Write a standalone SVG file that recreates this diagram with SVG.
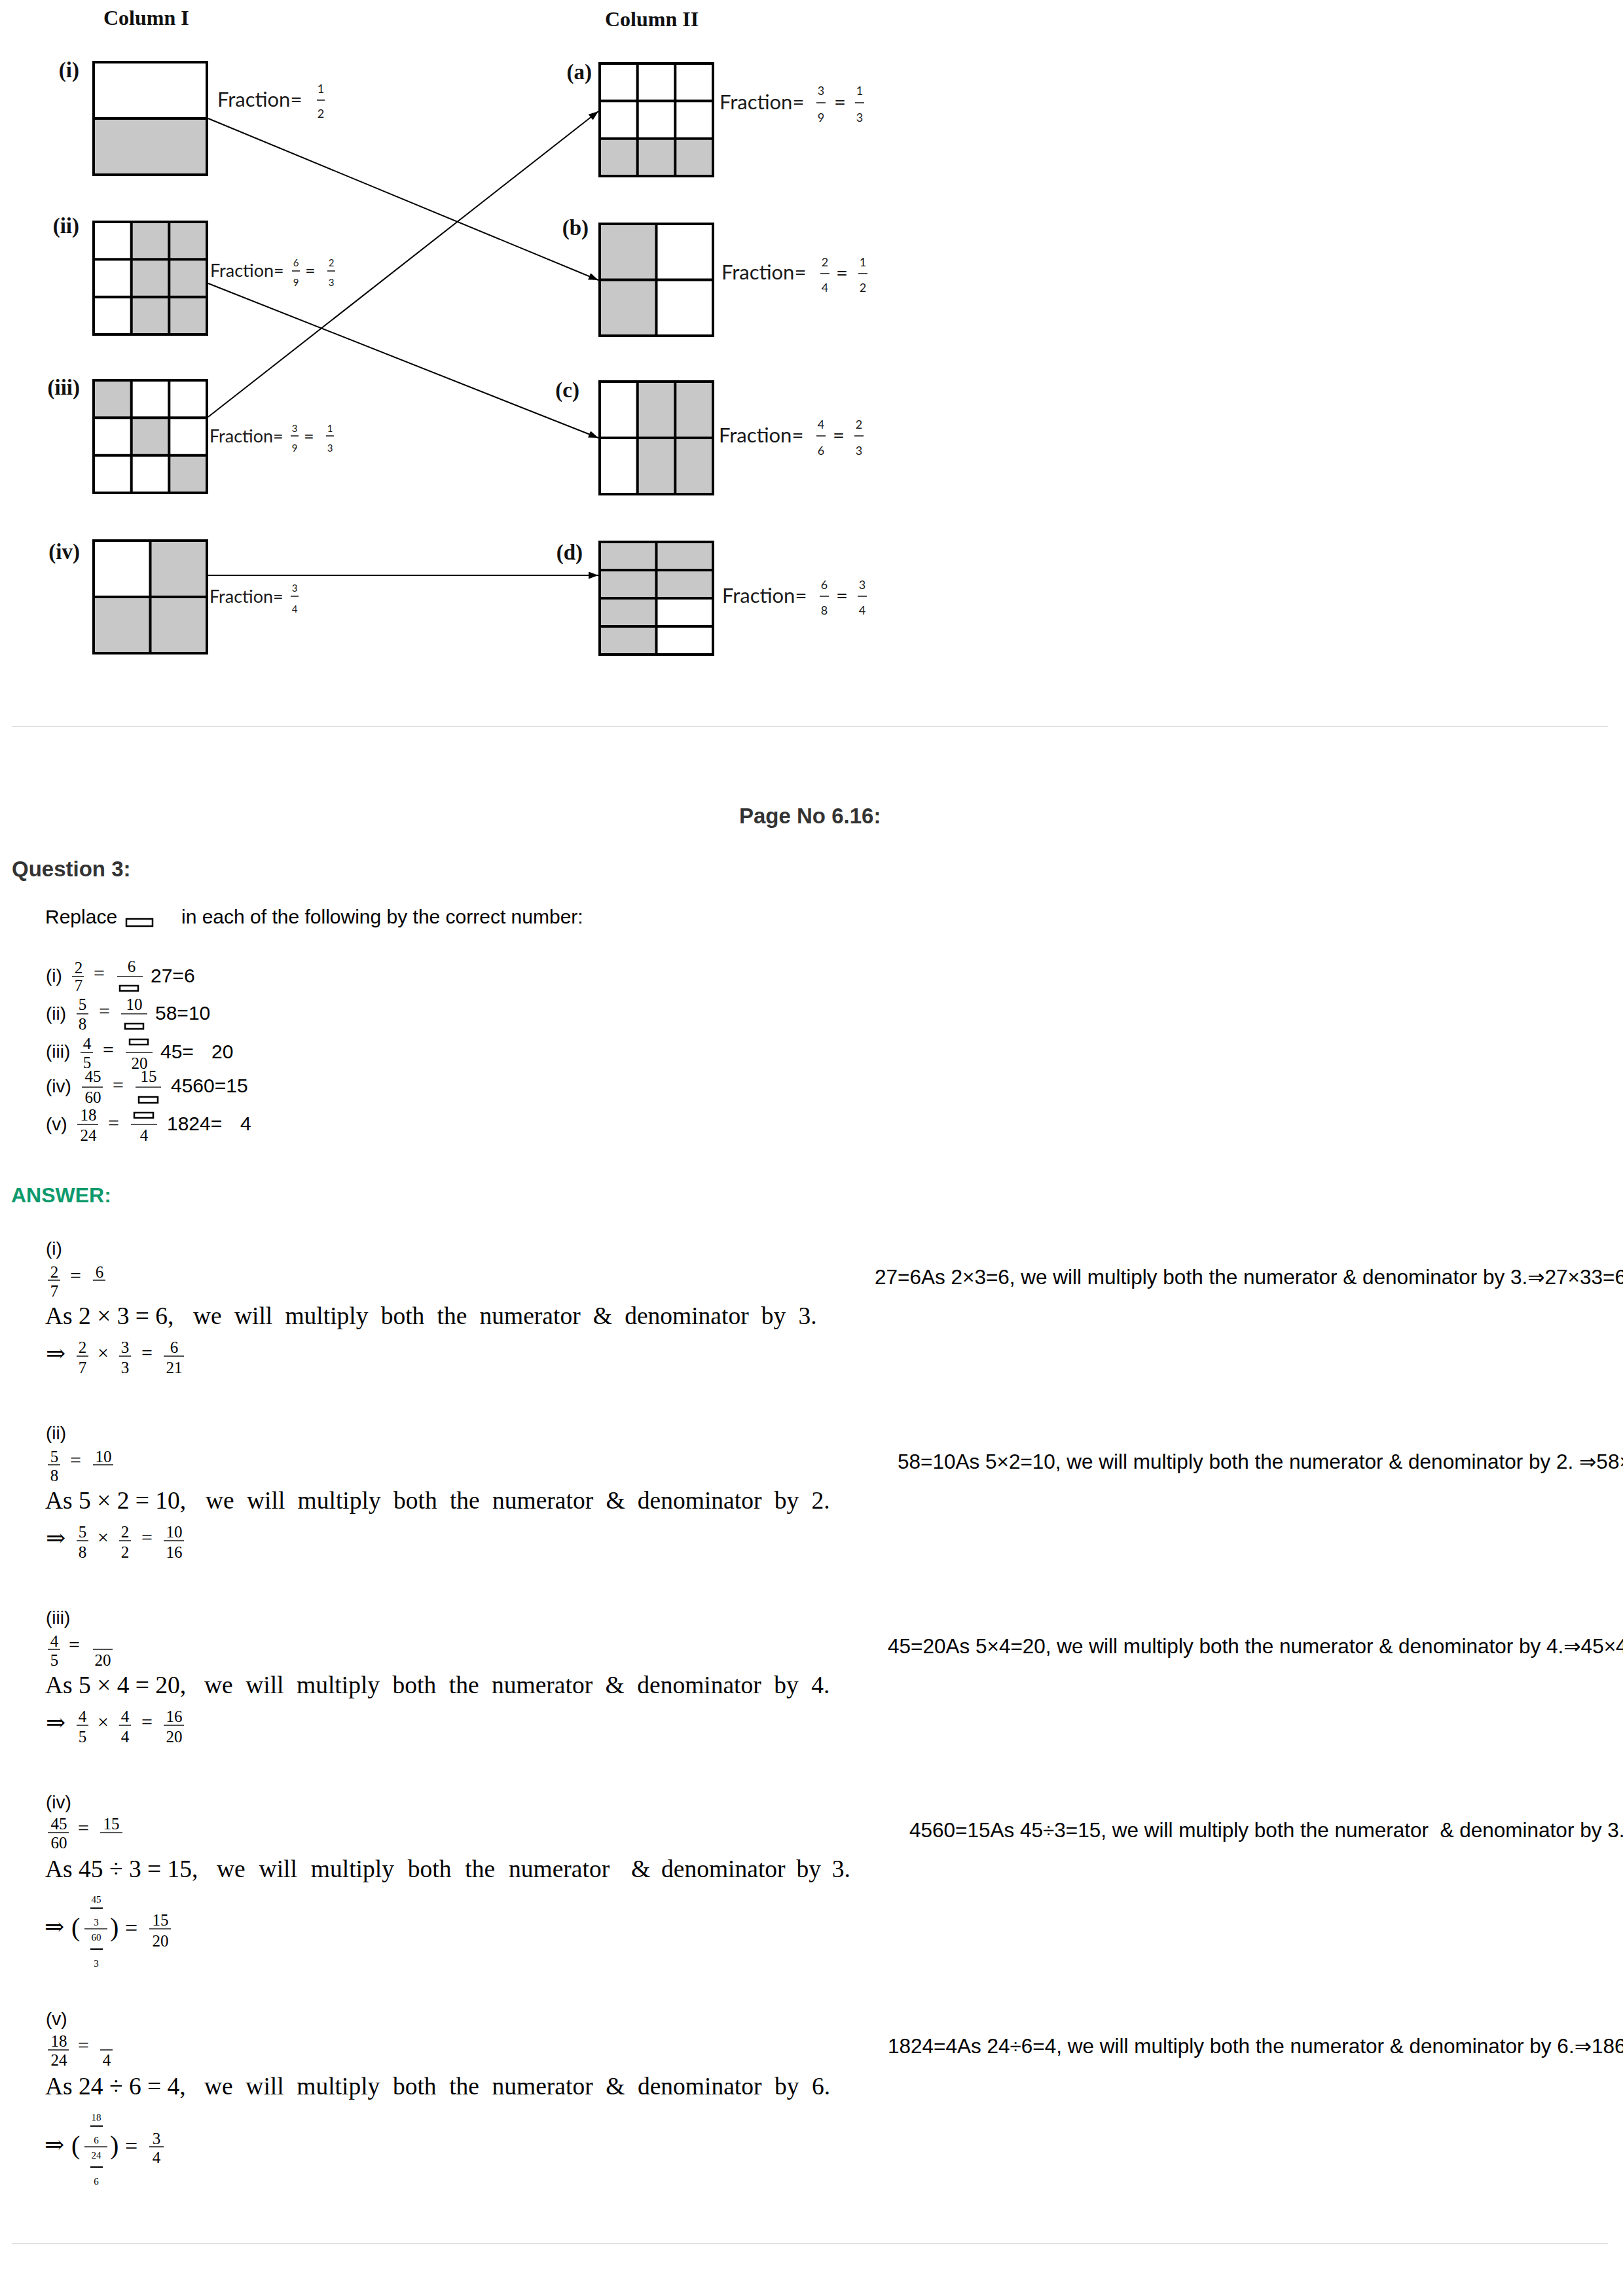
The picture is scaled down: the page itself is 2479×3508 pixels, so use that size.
<svg xmlns="http://www.w3.org/2000/svg" width="2479" height="3508" viewBox="0 0 2479 3508">
<defs>
<marker id="arr" markerUnits="userSpaceOnUse" markerWidth="15" markerHeight="11" refX="15" refY="5.5" orient="auto">
<path d="M0,0 L15,5.5 L0,11 z" fill="#000"/>
</marker>
<style>
.hdr{font-family:"Liberation Serif",serif;font-weight:bold;font-size:32px;fill:#111}
.lbl{font-family:"Liberation Serif",serif;font-weight:bold;font-size:33px;fill:#111;text-anchor:end}
.fr{font-family:Lato,"Liberation Sans",sans-serif;font-size:31px;fill:#1a1a1a}
.frs{font-family:Lato,"Liberation Sans",sans-serif;font-size:27px;fill:#1a1a1a}
.fd{font-family:Lato,"Liberation Sans",sans-serif;font-size:18px;text-anchor:middle;fill:#1a1a1a}
.fs{font-family:Lato,"Liberation Sans",sans-serif;font-size:15px;text-anchor:middle;fill:#1a1a1a}
.g{fill:#c8c8c8}
.box{fill:none;stroke:#000;stroke-width:4}
.ln{stroke:#000;stroke-width:4}
.tb{stroke:#222;stroke-width:1.6}
.conn{stroke:#000;stroke-width:2;fill:none;marker-end:url(#arr)}
.sep{stroke:#e2e2e2;stroke-width:2}
.sans{font-family:"Liberation Sans","DejaVu Sans",sans-serif;fill:#000}
.s30{font-size:30px}
.s28{font-size:28px}
.rt{font-family:"Liberation Sans","DejaVu Sans",sans-serif;font-size:31.5px;fill:#000}
.hd{font-family:"Liberation Sans",sans-serif;font-weight:bold;font-size:33px;fill:#333}
.ans{font-family:"Liberation Sans",sans-serif;font-weight:bold;font-size:32px;fill:#0e9a6b}
.ser{font-family:"Liberation Serif","DejaVu Serif",serif;fill:#000}
.n25{font-size:25px;text-anchor:middle}
.n15{font-size:15px;text-anchor:middle}
.as{font-size:37.5px}
.op{font-size:30px}
.arw{font-family:"DejaVu Serif","Liberation Serif",serif;font-size:36px;fill:#000}
.qb{fill:none;stroke:#000;stroke-width:2.5}
</style>
</defs>
<rect width="2479" height="3508" fill="#fff"/>

<text class="hdr" x="158" y="38">Column I</text>
<text class="hdr" x="924" y="40">Column II</text>

<g id="box-i">
<rect class="g" x="143" y="181" width="173" height="86"/>
<line class="ln" x1="143" y1="181" x2="316" y2="181"/>
<rect class="box" x="143" y="95" width="173" height="172"/>
<text class="lbl" x="121" y="118">(i)</text>
<text class="fr" x="332" y="163">Fraction=</text>
<text class="fd" x="490" y="142">1</text><line class="tb" x1="484" y1="153" x2="496" y2="153"/><text class="fd" x="490" y="180">2</text>
</g>

<g id="box-ii">
<rect class="g" x="200.7" y="339" width="115.3" height="172"/>
<line class="ln" x1="143" y1="396.3" x2="316" y2="396.3"/>
<line class="ln" x1="143" y1="453.7" x2="316" y2="453.7"/>
<line class="ln" x1="200.7" y1="339" x2="200.7" y2="511"/>
<line class="ln" x1="258.3" y1="339" x2="258.3" y2="511"/>
<rect class="box" x="143" y="339" width="173" height="172"/>
<text class="lbl" x="121" y="356">(ii)</text>
<text class="frs" x="321" y="423">Fraction=</text>
<text class="fs" x="452" y="407">6</text><line class="tb" x1="446" y1="414" x2="458" y2="414"/><text class="fs" x="452" y="437">9</text>
<text class="frs" x="466" y="423">=</text>
<text class="fs" x="506" y="407">2</text><line class="tb" x1="500" y1="414" x2="512" y2="414"/><text class="fs" x="506" y="437">3</text>
</g>

<g id="box-iii">
<rect class="g" x="143" y="581" width="57.7" height="57.3"/>
<rect class="g" x="200.7" y="638.3" width="57.6" height="57.4"/>
<rect class="g" x="258.3" y="695.7" width="57.7" height="57.3"/>
<line class="ln" x1="143" y1="638.3" x2="316" y2="638.3"/>
<line class="ln" x1="143" y1="695.7" x2="316" y2="695.7"/>
<line class="ln" x1="200.7" y1="581" x2="200.7" y2="753"/>
<line class="ln" x1="258.3" y1="581" x2="258.3" y2="753"/>
<rect class="box" x="143" y="581" width="173" height="172"/>
<text class="lbl" x="122" y="603">(iii)</text>
<text class="frs" x="320" y="676">Fraction=</text>
<text class="fs" x="450" y="660">3</text><line class="tb" x1="444" y1="666" x2="456" y2="666"/><text class="fs" x="450" y="690">9</text>
<text class="frs" x="464" y="676">=</text>
<text class="fs" x="504" y="660">1</text><line class="tb" x1="498" y1="666" x2="510" y2="666"/><text class="fs" x="504" y="690">3</text>
</g>

<g id="box-iv">
<rect class="g" x="229.5" y="826" width="86.5" height="86"/>
<rect class="g" x="143" y="912" width="173" height="86"/>
<line class="ln" x1="143" y1="912" x2="316" y2="912"/>
<line class="ln" x1="229.5" y1="826" x2="229.5" y2="998"/>
<rect class="box" x="143" y="826" width="173" height="172"/>
<text class="lbl" x="122" y="854">(iv)</text>
<text class="frs" x="320" y="921">Fraction=</text>
<text class="fs" x="450" y="904">3</text><line class="tb" x1="444" y1="911" x2="456" y2="911"/><text class="fs" x="450" y="936">4</text>
</g>

<g id="box-a">
<rect class="g" x="916" y="211.7" width="173" height="57.3"/>
<line class="ln" x1="916" y1="154.3" x2="1089" y2="154.3"/>
<line class="ln" x1="916" y1="211.7" x2="1089" y2="211.7"/>
<line class="ln" x1="973.7" y1="97" x2="973.7" y2="269"/>
<line class="ln" x1="1031.3" y1="97" x2="1031.3" y2="269"/>
<rect class="box" x="916" y="97" width="173" height="172"/>
<text class="lbl" x="904" y="121">(a)</text>
<text class="fr" x="1099" y="167">Fraction=</text>
<text class="fd" x="1254" y="145">3</text><line class="tb" x1="1247" y1="157" x2="1261" y2="157"/><text class="fd" x="1254" y="186">9</text>
<text class="fr" x="1274" y="167">=</text>
<text class="fd" x="1313" y="145">1</text><line class="tb" x1="1306" y1="157" x2="1320" y2="157"/><text class="fd" x="1313" y="186">3</text>
</g>

<g id="box-b">
<rect class="g" x="916" y="342" width="86.5" height="171"/>
<line class="ln" x1="916" y1="427.5" x2="1089" y2="427.5"/>
<line class="ln" x1="1002.5" y1="342" x2="1002.5" y2="513"/>
<rect class="box" x="916" y="342" width="173" height="171"/>
<text class="lbl" x="899" y="359">(b)</text>
<text class="fr" x="1102" y="427">Fraction=</text>
<text class="fd" x="1260" y="407">2</text><line class="tb" x1="1253" y1="418" x2="1267" y2="418"/><text class="fd" x="1260" y="446">4</text>
<text class="fr" x="1277" y="428">=</text>
<text class="fd" x="1318" y="407">1</text><line class="tb" x1="1311" y1="418" x2="1325" y2="418"/><text class="fd" x="1318" y="446">2</text>
</g>

<g id="box-c">
<rect class="g" x="973.7" y="583" width="115.3" height="172"/>
<line class="ln" x1="916" y1="669" x2="1089" y2="669"/>
<line class="ln" x1="973.7" y1="583" x2="973.7" y2="755"/>
<line class="ln" x1="1031.3" y1="583" x2="1031.3" y2="755"/>
<rect class="box" x="916" y="583" width="173" height="172"/>
<text class="lbl" x="885" y="607">(c)</text>
<text class="fr" x="1098" y="676">Fraction=</text>
<text class="fd" x="1254" y="655">4</text><line class="tb" x1="1247" y1="666" x2="1261" y2="666"/><text class="fd" x="1254" y="695">6</text>
<text class="fr" x="1272" y="676">=</text>
<text class="fd" x="1312" y="655">2</text><line class="tb" x1="1305" y1="666" x2="1319" y2="666"/><text class="fd" x="1312" y="695">3</text>
</g>

<g id="box-d">
<rect class="g" x="916" y="828" width="173" height="86"/>
<rect class="g" x="916" y="914" width="86.5" height="86"/>
<line class="ln" x1="916" y1="871" x2="1089" y2="871"/>
<line class="ln" x1="916" y1="914" x2="1089" y2="914"/>
<line class="ln" x1="916" y1="957" x2="1089" y2="957"/>
<line class="ln" x1="1002.5" y1="828" x2="1002.5" y2="1000"/>
<rect class="box" x="916" y="828" width="173" height="172"/>
<text class="lbl" x="890" y="855">(d)</text>
<text class="fr" x="1103" y="921">Fraction=</text>
<text class="fd" x="1259" y="900">6</text><line class="tb" x1="1252" y1="911" x2="1266" y2="911"/><text class="fd" x="1259" y="939">8</text>
<text class="fr" x="1277" y="921">=</text>
<text class="fd" x="1317" y="900">3</text><line class="tb" x1="1310" y1="911" x2="1324" y2="911"/><text class="fd" x="1317" y="939">4</text>
</g>

<g id="connectors">
<line class="conn" x1="318" y1="181" x2="914" y2="428"/>
<line class="conn" x1="318" y1="433" x2="914" y2="669"/>
<line class="conn" x1="318" y1="637" x2="914" y2="170"/>
<line class="conn" x1="318" y1="879" x2="914" y2="879"/>
</g>

<line class="sep" x1="18" y1="1110" x2="2456" y2="1110"/>

<text class="hd" x="1129" y="1258">Page No 6.16:</text>
<text class="hd" x="18" y="1339">Question 3:</text>

<text class="sans s30" x="69" y="1411">Replace</text>
<rect class="qb" x="193" y="1404" width="40" height="11"/>
<text class="sans s30" x="277" y="1411">in each of the following by the correct number:</text>

<g id="q-list">
<text class="sans s28" x="70" y="1500">(i)</text>
<text class="ser n25" x="120" y="1487">2</text><line class="tb" x1="110" y1="1492" x2="128" y2="1492"/><text class="ser n25" x="120" y="1514">7</text>
<text class="ser op" x="143" y="1497">=</text>
<text class="ser n25" x="201" y="1485">6</text><line class="tb" x1="179" y1="1492" x2="218" y2="1492"/><rect class="qb" x="183" y="1506" width="28" height="8"/>
<text class="sans s30" x="230" y="1501">27=6</text>

<text class="sans s28" x="70" y="1558">(ii)</text>
<text class="ser n25" x="126" y="1543">5</text><line class="tb" x1="117" y1="1549" x2="135" y2="1549"/><text class="ser n25" x="126" y="1573">8</text>
<text class="ser op" x="151" y="1555">=</text>
<text class="ser n25" x="205" y="1543">10</text><line class="tb" x1="185" y1="1549" x2="225" y2="1549"/><rect class="qb" x="191" y="1564" width="28" height="8"/>
<text class="sans s30" x="237" y="1558">58=10</text>

<text class="sans s28" x="70" y="1616">(iii)</text>
<text class="ser n25" x="133" y="1603">4</text><line class="tb" x1="123" y1="1608" x2="142" y2="1608"/><text class="ser n25" x="133" y="1632">5</text>
<text class="ser op" x="157" y="1614">=</text>
<rect class="qb" x="198" y="1588" width="28" height="8"/><line class="tb" x1="192" y1="1608" x2="233" y2="1608"/><text class="ser n25" x="213" y="1633">20</text>
<text class="sans s30" x="245" y="1617">45=<tspan x="323">20</tspan></text>

<text class="sans s28" x="70" y="1669">(iv)</text>
<text class="ser n25" x="142" y="1653">45</text><line class="tb" x1="125" y1="1661" x2="157" y2="1661"/><text class="ser n25" x="142" y="1685">60</text>
<text class="ser op" x="172" y="1668">=</text>
<text class="ser n25" x="227" y="1653">15</text><line class="tb" x1="207" y1="1661" x2="246" y2="1661"/><rect class="qb" x="212" y="1676" width="29" height="9"/>
<text class="sans s30" x="261" y="1669">4560=15</text>

<text class="sans s28" x="70" y="1727">(v)</text>
<text class="ser n25" x="135" y="1712">18</text><line class="tb" x1="118" y1="1718" x2="150" y2="1718"/><text class="ser n25" x="135" y="1743">24</text>
<text class="ser op" x="165" y="1726">=</text>
<rect class="qb" x="205" y="1700" width="29" height="8"/><line class="tb" x1="200" y1="1718" x2="240" y2="1718"/><text class="ser n25" x="220" y="1743">4</text>
<text class="sans s30" x="255" y="1727">1824=<tspan x="367">4</tspan></text>
</g>

<text class="ans" x="17" y="1837">ANSWER:</text>

<g id="ans-i">
<text class="sans s28" x="70" y="1917">(i)</text>
<text class="ser n25" x="83" y="1952">2</text><line class="tb" x1="73" y1="1956" x2="92" y2="1956"/><text class="ser n25" x="83" y="1981">7</text>
<text class="ser op" x="107" y="1959">=</text>
<text class="ser n25" x="152" y="1952">6</text><line class="tb" x1="142" y1="1956" x2="161" y2="1956"/>
<text class="ser as" y="2023"><tspan x="69">As 2 × 3 = 6,</tspan><tspan x="295" word-spacing="9.8">we will multiply both the numerator &amp; denominator by 3.</tspan></text>
<text class="arw" x="70" y="2080">⇒</text>
<text class="ser n25" x="126" y="2067">2</text><line class="tb" x1="117" y1="2072" x2="135" y2="2072"/><text class="ser n25" x="126" y="2098">7</text>
<text class="ser op" x="149" y="2077">×</text>
<text class="ser n25" x="191" y="2067">3</text><line class="tb" x1="182" y1="2072" x2="200" y2="2072"/><text class="ser n25" x="191" y="2098">3</text>
<text class="ser op" x="216" y="2077">=</text>
<text class="ser n25" x="266" y="2067">6</text><line class="tb" x1="250" y1="2072" x2="281" y2="2072"/><text class="ser n25" x="266" y="2098">21</text>
<text class="rt" x="1336" y="1962">27=6As 2×3=6, we will multiply both the numerator &amp; denominator by 3.⇒27×33=6</text>
</g>

<g id="ans-ii">
<text class="sans s28" x="70" y="2199">(ii)</text>
<text class="ser n25" x="83" y="2234">5</text><line class="tb" x1="73" y1="2238" x2="92" y2="2238"/><text class="ser n25" x="83" y="2263">8</text>
<text class="ser op" x="107" y="2241">=</text>
<text class="ser n25" x="158" y="2234">10</text><line class="tb" x1="142" y1="2238" x2="173" y2="2238"/>
<text class="ser as" y="2305"><tspan x="69">As 5 × 2 = 10,</tspan><tspan x="314" word-spacing="9.9">we will multiply both the numerator &amp; denominator by 2.</tspan></text>
<text class="arw" x="70" y="2362">⇒</text>
<text class="ser n25" x="126" y="2349">5</text><line class="tb" x1="117" y1="2354" x2="135" y2="2354"/><text class="ser n25" x="126" y="2380">8</text>
<text class="ser op" x="149" y="2359">×</text>
<text class="ser n25" x="191" y="2349">2</text><line class="tb" x1="182" y1="2354" x2="200" y2="2354"/><text class="ser n25" x="191" y="2380">2</text>
<text class="ser op" x="216" y="2359">=</text>
<text class="ser n25" x="266" y="2349">10</text><line class="tb" x1="250" y1="2354" x2="281" y2="2354"/><text class="ser n25" x="266" y="2380">16</text>
<text class="rt" x="1371" y="2244">58=10As 5×2=10, we will multiply both the numerator &amp; denominator by 2. ⇒58×</text>
</g>

<g id="ans-iii">
<text class="sans s28" x="70" y="2481">(iii)</text>
<text class="ser n25" x="83" y="2516">4</text><line class="tb" x1="73" y1="2520" x2="92" y2="2520"/><text class="ser n25" x="83" y="2545">5</text>
<text class="ser op" x="105" y="2523">=</text>
<line class="tb" x1="142" y1="2520" x2="172" y2="2520"/><text class="ser n25" x="157" y="2545">20</text>
<text class="ser as" y="2587"><tspan x="69">As 5 × 4 = 20,</tspan><tspan x="312" word-spacing="10.1">we will multiply both the numerator &amp; denominator by 4.</tspan></text>
<text class="arw" x="70" y="2644">⇒</text>
<text class="ser n25" x="126" y="2631">4</text><line class="tb" x1="117" y1="2636" x2="135" y2="2636"/><text class="ser n25" x="126" y="2662">5</text>
<text class="ser op" x="149" y="2641">×</text>
<text class="ser n25" x="191" y="2631">4</text><line class="tb" x1="182" y1="2636" x2="200" y2="2636"/><text class="ser n25" x="191" y="2662">4</text>
<text class="ser op" x="216" y="2641">=</text>
<text class="ser n25" x="266" y="2631">16</text><line class="tb" x1="250" y1="2636" x2="281" y2="2636"/><text class="ser n25" x="266" y="2662">20</text>
<text class="rt" x="1356" y="2526">45=20As 5×4=20, we will multiply both the numerator &amp; denominator by 4.⇒45×4</text>
</g>

<g id="ans-iv">
<text class="sans s28" x="70" y="2763">(iv)</text>
<text class="ser n25" x="90" y="2795">45</text><line class="tb" x1="73" y1="2800" x2="105" y2="2800"/><text class="ser n25" x="90" y="2824">60</text>
<text class="ser op" x="119" y="2803">=</text>
<text class="ser n25" x="170" y="2795">15</text><line class="tb" x1="153" y1="2800" x2="187" y2="2800"/>
<text class="ser as" y="2868" xml:space="preserve"><tspan x="69">As 45 ÷ 3 = 15,</tspan><tspan x="331" word-spacing="11.5">we will multiply both the numerator  </tspan><tspan x="964" word-spacing="7.5">&amp; denominator by 3.</tspan></text>
<text class="arw" x="68" y="2956">⇒</text>
<text class="ser" font-size="40" x="109" y="2958">(</text>
<text class="ser n15" x="147" y="2907">45</text><line stroke="#000" stroke-width="2.2" x1="138" y1="2915.5" x2="157" y2="2915.5"/><text class="ser n15" x="147" y="2942">3</text>
<line class="tb" x1="129" y1="2947" x2="164" y2="2947"/>
<text class="ser n15" x="147" y="2965">60</text><line stroke="#000" stroke-width="2.2" x1="138" y1="2978" x2="157" y2="2978"/><text class="ser n15" x="147" y="3005">3</text>
<text class="ser" font-size="40" x="168" y="2958">)</text>
<text class="ser" font-size="34" x="191" y="2957">=</text>
<text class="ser n25" x="245" y="2942">15</text><line class="tb" x1="228" y1="2947" x2="261" y2="2947"/><text class="ser n25" x="245" y="2974">20</text>
<text class="rt" x="1389" y="2807" xml:space="preserve">4560=15As 45÷3=15, we will multiply both the numerator  &amp; denominator by 3.⇒</text>
</g>

<g id="ans-v">
<text class="sans s28" x="70" y="3094">(v)</text>
<text class="ser n25" x="90" y="3127">18</text><line class="tb" x1="73" y1="3132" x2="105" y2="3132"/><text class="ser n25" x="90" y="3156">24</text>
<text class="ser op" x="119" y="3135">=</text>
<line class="tb" x1="153" y1="3132" x2="172" y2="3132"/><text class="ser n25" x="163" y="3156">4</text>
<text class="ser as" y="3200"><tspan x="69">As 24 ÷ 6 = 4,</tspan><tspan x="312" word-spacing="10.2">we will multiply both the numerator &amp; denominator by 6.</tspan></text>
<text class="arw" x="68" y="3289">⇒</text>
<text class="ser" font-size="40" x="109" y="3291">(</text>
<text class="ser n15" x="147" y="3240">18</text><line stroke="#000" stroke-width="2.2" x1="138" y1="3248.5" x2="157" y2="3248.5"/><text class="ser n15" x="147" y="3275">6</text>
<line class="tb" x1="129" y1="3280" x2="164" y2="3280"/>
<text class="ser n15" x="147" y="3298">24</text><line stroke="#000" stroke-width="2.2" x1="138" y1="3311" x2="157" y2="3311"/><text class="ser n15" x="147" y="3338">6</text>
<text class="ser" font-size="40" x="168" y="3291">)</text>
<text class="ser" font-size="34" x="191" y="3290">=</text>
<text class="ser n25" x="239" y="3276">3</text><line class="tb" x1="228" y1="3280" x2="250" y2="3280"/><text class="ser n25" x="239" y="3305">4</text>
<text class="rt" x="1356" y="3137">1824=4As 24÷6=4, we will multiply both the numerator &amp; denominator by 6.⇒186</text>
</g>

<line class="sep" x1="18" y1="3428" x2="2456" y2="3428"/>
</svg>
